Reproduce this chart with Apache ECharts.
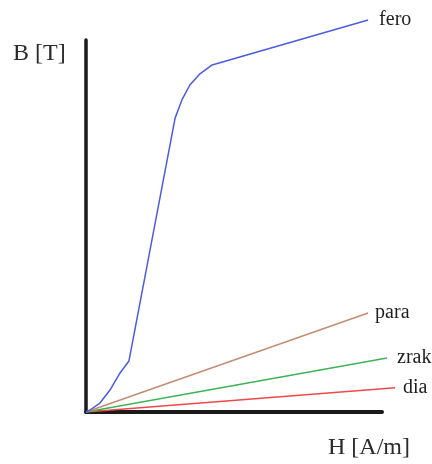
<!DOCTYPE html>
<html>
<head>
<meta charset="utf-8">
<script src="https://cdn.jsdelivr.net/npm/echarts@6/dist/echarts.min.js"></script>
<style>
html,body{margin:0;padding:0;background:#fff;}
#c{width:432px;height:464px;}
</style>
</head>
<body>
<div id="c"></div>
<script>
// Data (arbitrary units, H on x axis 0..100, B on y axis 0..100)
const seriesNames = ['fero', 'para', 'zrak', 'dia'];
const feroH = [0, 1.35, 4.7, 8.1, 11.5, 14.5, 30.1, 32.4, 35.1, 38.5, 42.6, 95.3];
const feroB = [0, 0.54, 2.4, 5.9, 10.5, 13.7, 79.0, 83.9, 87.9, 90.9, 93.3, 105.4];
const paraH = [0, 95.3];
const paraB = [0, 26.6];
const zrakH = [0, 101.7];
const zrakB = [0, 14.5];
const diaH = [0, 104.4];
const diaB = [0, 6.5];
const axisNameX = 'H [A/m]';
const axisNameY = 'B [T]';

const colors = ['#4b5be3', '#c48c72', '#3fb356', '#f04848'];
const labelGaps = [11, 7, 10, 8];
const pairs = (xs, ys) => xs.map((x, i) => [x, ys[i]]);
const allData = [pairs(feroH, feroB), pairs(paraH, paraB), pairs(zrakH, zrakB), pairs(diaH, diaB)];

// scale: 2.96 px per H unit, 3.72 px per B unit, origin at (86, 412)
const pxX = 2.96, pxY = 3.72;
const dataMaxX = 110, dataMaxY = 110;
const hidden = { axisLine: { show: false }, axisTick: { show: false }, axisLabel: { show: false }, splitLine: { show: false } };

const chart = echarts.init(document.getElementById('c'));
chart.setOption({
  animation: false,
  backgroundColor: '#fff',
  grid: [
    { left: 86, bottom: 52, width: dataMaxX * pxX, height: dataMaxY * pxY },
    { left: 86, bottom: 52, width: 100 * pxX, height: 100 * pxY }
  ],
  xAxis: [
    Object.assign({ type: 'value', min: 0, max: dataMaxX, gridIndex: 0 }, hidden),
    {
      type: 'value', min: 0, max: 100, gridIndex: 1,
      axisLine: { show: true, lineStyle: { color: '#1a1a1a', width: 4, cap: 'round' } },
      axisTick: { show: false }, axisLabel: { show: false }, splitLine: { show: false }
    }
  ],
  yAxis: [
    Object.assign({ type: 'value', min: 0, max: dataMaxY, gridIndex: 0 }, hidden),
    {
      type: 'value', min: 0, max: 100, gridIndex: 1,
      axisLine: { show: true, lineStyle: { color: '#1a1a1a', width: 3.5 } },
      axisTick: { show: false }, axisLabel: { show: false }, splitLine: { show: false }
    }
  ],
  graphic: [
    { type: 'text', left: 13, top: 42, style: { text: axisNameY, font: '24px "Liberation Serif"', fill: '#2a2a2a' } },
    { type: 'text', left: 328, top: 436, style: { text: axisNameX, font: '24px "Liberation Serif"', fill: '#2a2a2a' } }
  ],
  series: allData.map((d, i) => ({
    name: seriesNames[i],
    type: 'line',
    xAxisIndex: 0,
    yAxisIndex: 0,
    data: d,
    symbol: 'none',
    smooth: false,
    z: 10 - i,
    lineStyle: { color: colors[i], width: 1.5 },
    endLabel: {
      show: true,
      formatter: seriesNames[i],
      distance: labelGaps[i],
      color: '#1e1e1e',
      fontFamily: 'Liberation Serif',
      fontSize: 20
    }
  }))
});
</script>
</body>
</html>
